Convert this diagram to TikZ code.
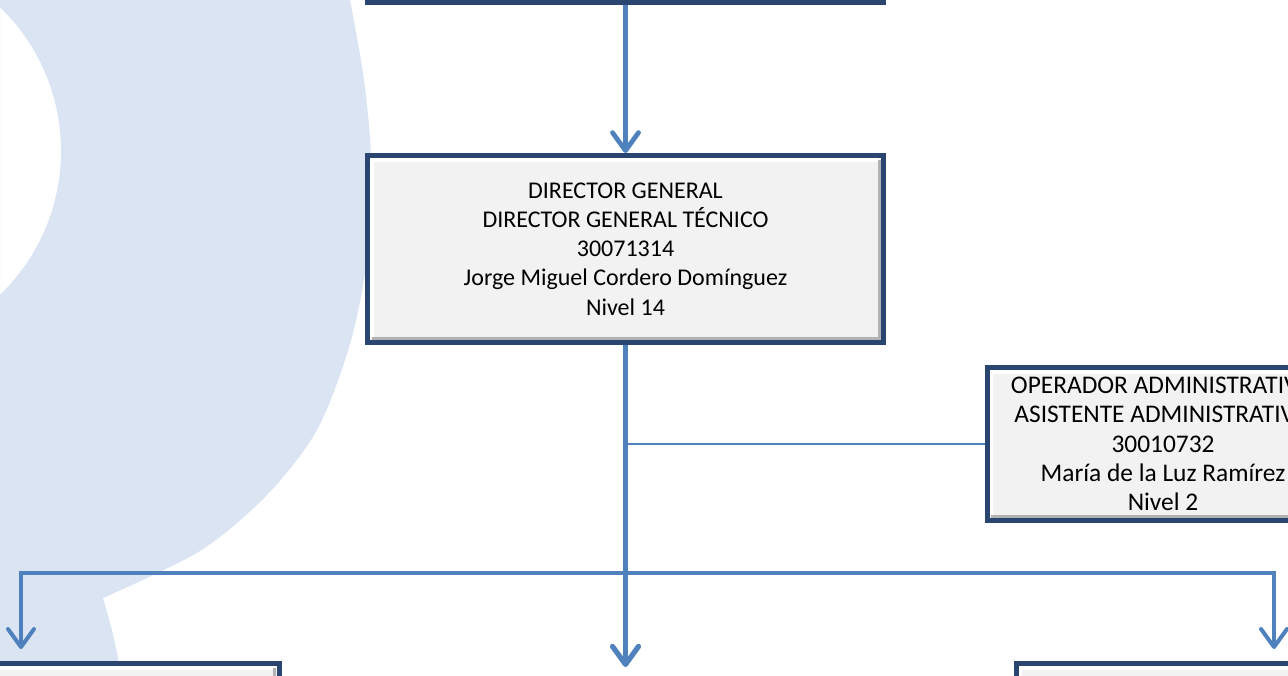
\documentclass[tikz,border=0pt]{standalone}
\usepackage{fontspec}
\setmainfont{Carlito}
\usetikzlibrary{arrows.meta}
\definecolor{wm}{HTML}{DAE4F2}
\definecolor{lnblue}{HTML}{4F81BD}
\definecolor{navy}{HTML}{2A4670}
\definecolor{boxfill}{HTML}{F2F2F2}
\begin{document}
\begin{tikzpicture}[x=0.5pt,y=-0.5pt,
  orgbox/.style={draw=navy, line width=2.5pt, fill=boxfill,
    minimum width=258pt, minimum height=93.5pt, align=center, inner sep=0pt,
    font=\fontsize{12}{14.6}\selectfont,
    path picture={
      \draw[white, line width=1.6pt] ([shift={(2.2pt,2.2pt)}]path picture bounding box.south west) |- ([shift={(-2.2pt,-2.2pt)}]path picture bounding box.north east);
      \draw[black!30, line width=1.6pt] ([shift={(2.2pt,2.2pt)}]path picture bounding box.south west) -| ([shift={(-2.2pt,-2.2pt)}]path picture bounding box.north east);
    }},
  conn/.style={draw=lnblue, line width=2.4pt},
  tip/.style={-{Straight Barb[length=9pt,width=13pt,round]}}]
\clip (0,0) rectangle (1288,675);
% watermark
\fill[wm, even odd rule] (0,-10) -- (345,-10) -- plot[smooth] coordinates {(350,0) (364,80) (371,160) (367,258) (350,344) (317,430) (267,495) (200,551) (103,598)} -- (112,630) -- (125,690) -- (0,690) -- cycle
  (-139,151) circle[radius=200];
% boxes
\node[orgbox, anchor=south] (top) at (625.5,5) {};
\node[orgbox] (dir) at (625.5,249) {DIRECTOR GENERAL\\DIRECTOR GENERAL TÉCNICO\\30071314\\Jorge Miguel Cordero Domínguez\\Nivel 14};
\node[orgbox, minimum width=176pt, minimum height=76.5pt, font=\fontsize{12.7}{14.6}\selectfont] (op) at (1163,444) {OPERADOR ADMINISTRATIVO\\ASISTENTE ADMINISTRATIVO\\30010732\\María de la Luz Ramírez\\Nivel 2};
\node[orgbox, anchor=north] (bl) at (21,661) {};
\node[orgbox, anchor=north] (br) at (1274,661) {};
\coordinate (mid) at (625.5,667);
\coordinate (bar) at (625.5,573);
% connectors
\draw[conn, tip] (top) -- (dir);
\draw[conn, line width=2.6pt, tip] (dir.south) -- (mid);
\draw[draw=lnblue, line width=1.3pt] (dir.south |- op.west) -- (op.west);
\draw[conn, line width=2pt, tip, shorten >=6pt] (bar) -| (bl.north);
\draw[conn, line width=2pt, tip, shorten >=6pt] (bar) -| (br.north);
\end{tikzpicture}
\end{document}
